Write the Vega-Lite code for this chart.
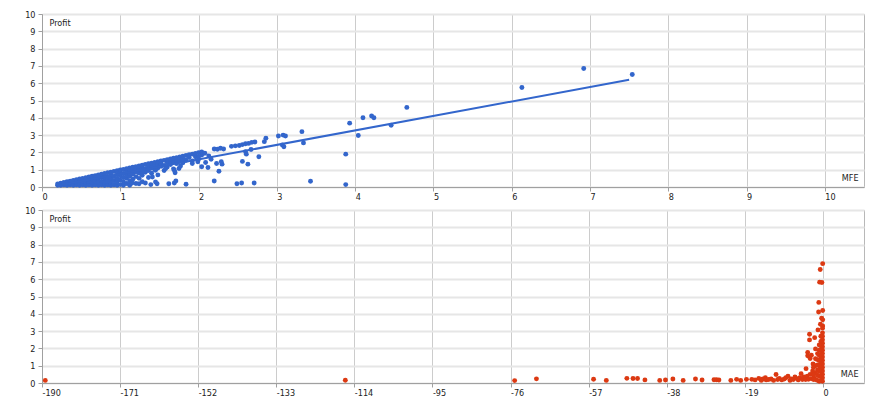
{
  "$schema": "https://vega.github.io/schema/vega-lite/v6.json",
  "padding": {"left": 24, "top": 9, "right": 13, "bottom": 5},
  "spacing": 3,
  "config": {
    "view": {"stroke": "#b8b8b8"},
    "axis": {
      "labelFont": "DejaVu Sans Condensed", "labelFontSize": 9, "labelColor": "#222",
      "titleFont": "DejaVu Sans Condensed", "titleFontSize": 9, "titleColor": "#222", "titleFontWeight": "normal",
      "domainColor": "#a0a0a0", "tickColor": "#a0a0a0", "tickSize": 4
    }
  },
  "datasets": {
    "trend": [{"MFE": 0.2, "Profit": 0.09}, {"MFE": 7.5, "Profit": 6.2}],
    "mfe": [
      {"MFE":0.2,"Profit":0.1},{"MFE":0.2,"Profit":0.18},
      {"MFE":0.24,"Profit":0.1},{"MFE":0.24,"Profit":0.22},
      {"MFE":0.28,"Profit":0.12},{"MFE":0.28,"Profit":0.26},
      {"MFE":0.32,"Profit":0.1},{"MFE":0.32,"Profit":0.3},
      {"MFE":0.36,"Profit":0.12},{"MFE":0.36,"Profit":0.24},{"MFE":0.36,"Profit":0.34},
      {"MFE":0.4,"Profit":0.1},{"MFE":0.4,"Profit":0.25},{"MFE":0.4,"Profit":0.38},
      {"MFE":0.44,"Profit":0.12},{"MFE":0.44,"Profit":0.28},{"MFE":0.44,"Profit":0.42},
      {"MFE":0.48,"Profit":0.1},{"MFE":0.48,"Profit":0.3},{"MFE":0.48,"Profit":0.46},
      {"MFE":0.52,"Profit":0.12},{"MFE":0.52,"Profit":0.32},{"MFE":0.52,"Profit":0.5},
      {"MFE":0.56,"Profit":0.1},{"MFE":0.56,"Profit":0.28},{"MFE":0.56,"Profit":0.42},{"MFE":0.56,"Profit":0.54},
      {"MFE":0.6,"Profit":0.12},{"MFE":0.6,"Profit":0.3},{"MFE":0.6,"Profit":0.45},{"MFE":0.6,"Profit":0.58},
      {"MFE":0.64,"Profit":0.1},{"MFE":0.64,"Profit":0.28},{"MFE":0.64,"Profit":0.46},{"MFE":0.64,"Profit":0.62},
      {"MFE":0.68,"Profit":0.12},{"MFE":0.68,"Profit":0.32},{"MFE":0.68,"Profit":0.5},{"MFE":0.68,"Profit":0.66},
      {"MFE":0.72,"Profit":0.1},{"MFE":0.72,"Profit":0.3},{"MFE":0.72,"Profit":0.5},{"MFE":0.72,"Profit":0.7},
      {"MFE":0.76,"Profit":0.12},{"MFE":0.76,"Profit":0.32},{"MFE":0.76,"Profit":0.54},{"MFE":0.76,"Profit":0.74},
      {"MFE":0.8,"Profit":0.1},{"MFE":0.8,"Profit":0.3},{"MFE":0.8,"Profit":0.5},{"MFE":0.8,"Profit":0.66},{"MFE":0.8,"Profit":0.78},
      {"MFE":0.84,"Profit":0.12},{"MFE":0.84,"Profit":0.34},{"MFE":0.84,"Profit":0.56},{"MFE":0.84,"Profit":0.82},
      {"MFE":0.88,"Profit":0.1},{"MFE":0.88,"Profit":0.3},{"MFE":0.88,"Profit":0.5},{"MFE":0.88,"Profit":0.7},{"MFE":0.88,"Profit":0.86},
      {"MFE":0.92,"Profit":0.12},{"MFE":0.92,"Profit":0.36},{"MFE":0.92,"Profit":0.6},{"MFE":0.92,"Profit":0.9},
      {"MFE":0.96,"Profit":0.1},{"MFE":0.96,"Profit":0.3},{"MFE":0.96,"Profit":0.5},{"MFE":0.96,"Profit":0.72},{"MFE":0.96,"Profit":0.94},
      {"MFE":1.0,"Profit":0.14},{"MFE":1.0,"Profit":0.4},{"MFE":1.0,"Profit":0.65},{"MFE":1.0,"Profit":0.84},{"MFE":1.0,"Profit":0.98},
      {"MFE":1.04,"Profit":0.1},{"MFE":1.04,"Profit":0.3},{"MFE":1.04,"Profit":0.55},{"MFE":1.04,"Profit":0.78},{"MFE":1.04,"Profit":1.02},
      {"MFE":1.08,"Profit":0.2},{"MFE":1.08,"Profit":0.5},{"MFE":1.08,"Profit":0.7},{"MFE":1.08,"Profit":0.9},{"MFE":1.08,"Profit":1.06},
      {"MFE":1.12,"Profit":0.1},{"MFE":1.12,"Profit":0.35},{"MFE":1.12,"Profit":0.62},{"MFE":1.12,"Profit":0.85},{"MFE":1.12,"Profit":1.1},
      {"MFE":1.16,"Profit":0.45},{"MFE":1.16,"Profit":0.75},{"MFE":1.16,"Profit":0.95},{"MFE":1.16,"Profit":1.14},
      {"MFE":1.2,"Profit":0.2},{"MFE":1.2,"Profit":0.6},{"MFE":1.2,"Profit":0.88},{"MFE":1.2,"Profit":1.05},{"MFE":1.2,"Profit":1.18},
      {"MFE":1.24,"Profit":0.5},{"MFE":1.24,"Profit":0.8},{"MFE":1.24,"Profit":1.0},{"MFE":1.24,"Profit":1.22},
      {"MFE":1.28,"Profit":0.3},{"MFE":1.28,"Profit":0.68},{"MFE":1.28,"Profit":0.92},{"MFE":1.28,"Profit":1.1},{"MFE":1.28,"Profit":1.26},
      {"MFE":1.32,"Profit":0.85},{"MFE":1.32,"Profit":1.05},{"MFE":1.32,"Profit":1.3},
      {"MFE":1.36,"Profit":0.55},{"MFE":1.36,"Profit":0.95},{"MFE":1.36,"Profit":1.15},{"MFE":1.36,"Profit":1.34},
      {"MFE":1.4,"Profit":0.8},{"MFE":1.4,"Profit":1.1},{"MFE":1.4,"Profit":1.25},{"MFE":1.4,"Profit":1.38},
      {"MFE":1.44,"Profit":1.0},{"MFE":1.44,"Profit":1.2},{"MFE":1.44,"Profit":1.42},
      {"MFE":1.48,"Profit":0.7},{"MFE":1.48,"Profit":1.1},{"MFE":1.48,"Profit":1.3},{"MFE":1.48,"Profit":1.46},
      {"MFE":1.52,"Profit":1.2},{"MFE":1.52,"Profit":1.35},{"MFE":1.52,"Profit":1.5},
      {"MFE":1.56,"Profit":0.95},{"MFE":1.56,"Profit":1.25},{"MFE":1.56,"Profit":1.54},
      {"MFE":1.6,"Profit":1.15},{"MFE":1.6,"Profit":1.4},{"MFE":1.6,"Profit":1.58},
      {"MFE":1.64,"Profit":1.3},{"MFE":1.64,"Profit":1.48},{"MFE":1.64,"Profit":1.62},
      {"MFE":1.68,"Profit":1.05},{"MFE":1.68,"Profit":1.45},{"MFE":1.68,"Profit":1.66},
      {"MFE":1.72,"Profit":1.35},{"MFE":1.72,"Profit":1.55},{"MFE":1.72,"Profit":1.7},
      {"MFE":1.76,"Profit":1.5},{"MFE":1.76,"Profit":1.74},
      {"MFE":1.8,"Profit":1.4},{"MFE":1.8,"Profit":1.6},{"MFE":1.8,"Profit":1.78},
      {"MFE":1.84,"Profit":1.55},{"MFE":1.84,"Profit":1.82},
      {"MFE":1.88,"Profit":1.7},{"MFE":1.88,"Profit":1.86},
      {"MFE":1.92,"Profit":1.5},{"MFE":1.92,"Profit":1.9},
      {"MFE":1.96,"Profit":1.75},{"MFE":1.96,"Profit":1.94},
      {"MFE":2.0,"Profit":1.6},{"MFE":2.0,"Profit":1.98},
      {"MFE":2.04,"Profit":1.85},{"MFE":2.04,"Profit":2.02},
      {"MFE":2.08,"Profit":1.95},{"MFE":2.13,"Profit":1.8},
      {"MFE":2.2,"Profit":0.35},{"MFE":2.26,"Profit":0.91},{"MFE":2.49,"Profit":0.19},{"MFE":2.55,"Profit":0.23},
      {"MFE":2.71,"Profit":0.23},{"MFE":2.77,"Profit":1.75},{"MFE":2.56,"Profit":1.48},{"MFE":2.63,"Profit":1.32},
      {"MFE":2.04,"Profit":1.17},{"MFE":2.12,"Profit":1.13},{"MFE":2.09,"Profit":1.42},{"MFE":2.23,"Profit":1.36},
      {"MFE":2.3,"Profit":1.32},{"MFE":2.29,"Profit":1.46},{"MFE":2.16,"Profit":1.6},{"MFE":1.84,"Profit":0.16},
      {"MFE":1.69,"Profit":0.23},{"MFE":1.71,"Profit":0.35},{"MFE":1.62,"Profit":0.19},{"MFE":1.47,"Profit":0.19},
      {"MFE":1.45,"Profit":0.29},{"MFE":1.41,"Profit":0.58},{"MFE":1.39,"Profit":0.14},{"MFE":1.32,"Profit":0.23},
      {"MFE":1.24,"Profit":0.19},{"MFE":1.15,"Profit":0.23},{"MFE":1.13,"Profit":0.78},{"MFE":1.28,"Profit":0.87},
      {"MFE":1.35,"Profit":1.07},{"MFE":1.45,"Profit":0.97},{"MFE":1.58,"Profit":1.07},{"MFE":1.69,"Profit":0.97},
      {"MFE":1.75,"Profit":1.07},{"MFE":1.7,"Profit":0.82},{"MFE":1.77,"Profit":1.22},{"MFE":1.92,"Profit":1.36},
      {"MFE":1.99,"Profit":1.46},{"MFE":2.0,"Profit":1.75},{"MFE":2.6,"Profit":2.04},{"MFE":2.61,"Profit":1.9},
      {"MFE":2.67,"Profit":2.17},{"MFE":3.07,"Profit":2.43},{"MFE":3.09,"Profit":2.33},
      {"MFE":2.2,"Profit":2.2},{"MFE":2.24,"Profit":2.18},{"MFE":2.28,"Profit":2.24},{"MFE":2.32,"Profit":2.2},
      {"MFE":2.42,"Profit":2.35},{"MFE":2.47,"Profit":2.38},{"MFE":2.52,"Profit":2.4},{"MFE":2.56,"Profit":2.45},
      {"MFE":2.6,"Profit":2.5},{"MFE":2.64,"Profit":2.52},{"MFE":2.68,"Profit":2.58},{"MFE":2.72,"Profit":2.6},
      {"MFE":2.84,"Profit":2.62},{"MFE":2.86,"Profit":2.82},{"MFE":3.02,"Profit":2.95},{"MFE":3.08,"Profit":3.0},
      {"MFE":3.11,"Profit":2.95},{"MFE":3.32,"Profit":3.2},{"MFE":3.34,"Profit":2.55},{"MFE":3.43,"Profit":0.33},
      {"MFE":3.88,"Profit":0.14},{"MFE":3.88,"Profit":1.9},{"MFE":3.93,"Profit":3.69},{"MFE":4.04,"Profit":2.98},
      {"MFE":4.1,"Profit":4.0},{"MFE":4.21,"Profit":4.1},{"MFE":4.24,"Profit":4.0},{"MFE":4.46,"Profit":3.57},
      {"MFE":4.66,"Profit":4.6},{"MFE":6.13,"Profit":5.75},{"MFE":6.92,"Profit":6.85},{"MFE":7.54,"Profit":6.5}
    ],
    "mae": [
      {"MAE":-189.2,"Profit":0.15},{"MAE":-116.2,"Profit":0.16},{"MAE":-75.0,"Profit":0.14},{"MAE":-69.7,"Profit":0.24},
      {"MAE":-55.8,"Profit":0.22},{"MAE":-52.7,"Profit":0.15},{"MAE":-47.7,"Profit":0.27},{"MAE":-46.2,"Profit":0.26},
      {"MAE":-45.1,"Profit":0.26},{"MAE":-43.3,"Profit":0.18},{"MAE":-39.7,"Profit":0.15},{"MAE":-38.3,"Profit":0.17},
      {"MAE":-36.5,"Profit":0.23},{"MAE":-34.0,"Profit":0.15},{"MAE":-31.0,"Profit":0.23},{"MAE":-29.4,"Profit":0.17},
      {"MAE":-26.5,"Profit":0.19},{"MAE":-25.9,"Profit":0.19},{"MAE":-25.3,"Profit":0.17},{"MAE":-22.4,"Profit":0.15},
      {"MAE":-21.0,"Profit":0.21},{"MAE":-20.0,"Profit":0.15},{"MAE":-18.6,"Profit":0.21},{"MAE":-17.3,"Profit":0.21},
      {"MAE":-16.5,"Profit":0.18},{"MAE":-15.6,"Profit":0.27},{"MAE":-15.0,"Profit":0.15},{"MAE":-14.6,"Profit":0.23},
      {"MAE":-14.0,"Profit":0.3},{"MAE":-13.8,"Profit":0.18},{"MAE":-13.2,"Profit":0.2},{"MAE":-12.6,"Profit":0.23},
      {"MAE":-12.0,"Profit":0.15},{"MAE":-11.4,"Profit":0.49},{"MAE":-11.0,"Profit":0.2},{"MAE":-10.6,"Profit":0.27},
      {"MAE":-10.0,"Profit":0.18},{"MAE":-9.4,"Profit":0.23},{"MAE":-9.0,"Profit":0.3},{"MAE":-8.5,"Profit":0.39},
      {"MAE":-8.0,"Profit":0.15},{"MAE":-7.7,"Profit":0.23},{"MAE":-7.2,"Profit":0.2},{"MAE":-6.8,"Profit":0.35},
      {"MAE":-6.5,"Profit":0.27},{"MAE":-6.0,"Profit":0.18},{"MAE":-5.6,"Profit":0.3},{"MAE":-5.3,"Profit":0.54},
      {"MAE":-5.0,"Profit":0.2},{"MAE":-4.6,"Profit":0.35},{"MAE":-4.2,"Profit":0.2},{"MAE":-4.1,"Profit":0.83},
      {"MAE":-3.8,"Profit":0.4},{"MAE":-3.5,"Profit":0.22},{"MAE":-3.1,"Profit":0.5},{"MAE":-2.8,"Profit":0.25},
      {"MAE":-2.5,"Profit":0.7},{"MAE":-2.4,"Profit":1.1},{"MAE":-2.2,"Profit":0.3},
      {"MAE":-3.7,"Profit":1.77},{"MAE":-2.8,"Profit":1.6},{"MAE":-3.7,"Profit":1.57},{"MAE":-3.1,"Profit":1.42},
      {"MAE":-3.25,"Profit":2.82},{"MAE":-3.25,"Profit":2.49},{"MAE":-2.0,"Profit":2.62},{"MAE":-1.2,"Profit":3.07},
      {"MAE":-0.05,"Profit":6.9},{"MAE":-0.65,"Profit":6.56},{"MAE":-0.8,"Profit":5.83},{"MAE":-0.25,"Profit":5.81},
      {"MAE":-1.0,"Profit":4.66},{"MAE":-1.05,"Profit":4.1},{"MAE":-0.05,"Profit":4.19},{"MAE":-0.3,"Profit":3.75},
      {"MAE":-0.05,"Profit":3.65},{"MAE":-0.05,"Profit":3.3},{"MAE":-0.1,"Profit":3.17},{"MAE":-0.6,"Profit":3.4},
      {"MAE":-0.1,"Profit":0.1},{"MAE":-0.1,"Profit":0.3},{"MAE":-0.1,"Profit":0.5},{"MAE":-0.1,"Profit":0.7},
      {"MAE":-0.1,"Profit":0.9},{"MAE":-0.1,"Profit":1.1},{"MAE":-0.1,"Profit":1.3},{"MAE":-0.1,"Profit":1.5},
      {"MAE":-0.1,"Profit":1.7},{"MAE":-0.1,"Profit":1.9},{"MAE":-0.1,"Profit":2.1},{"MAE":-0.1,"Profit":2.3},
      {"MAE":-0.1,"Profit":2.5},{"MAE":-0.1,"Profit":2.7},{"MAE":-0.1,"Profit":2.9},
      {"MAE":-0.5,"Profit":0.15},{"MAE":-0.5,"Profit":0.4},{"MAE":-0.5,"Profit":0.65},{"MAE":-0.5,"Profit":0.9},
      {"MAE":-0.5,"Profit":1.15},{"MAE":-0.5,"Profit":1.4},{"MAE":-0.5,"Profit":1.65},{"MAE":-0.5,"Profit":1.9},
      {"MAE":-0.5,"Profit":2.15},{"MAE":-0.5,"Profit":2.4},{"MAE":-0.5,"Profit":2.7},
      {"MAE":-0.9,"Profit":0.1},{"MAE":-0.9,"Profit":0.4},{"MAE":-0.9,"Profit":0.7},{"MAE":-0.9,"Profit":1.0},
      {"MAE":-0.9,"Profit":1.3},{"MAE":-0.9,"Profit":1.6},{"MAE":-0.9,"Profit":1.9},{"MAE":-0.9,"Profit":2.2},
      {"MAE":-1.3,"Profit":0.15},{"MAE":-1.3,"Profit":0.45},{"MAE":-1.3,"Profit":0.75},{"MAE":-1.3,"Profit":1.05},
      {"MAE":-1.3,"Profit":1.35},{"MAE":-1.3,"Profit":1.7},
      {"MAE":-1.8,"Profit":0.2},{"MAE":-1.8,"Profit":0.6},{"MAE":-1.8,"Profit":1.0},{"MAE":-1.8,"Profit":1.4},
      {"MAE":-1.8,"Profit":1.97},{"MAE":-2.3,"Profit":0.2},{"MAE":-2.3,"Profit":0.5},{"MAE":-2.3,"Profit":0.9}
    ]
  },
  "vconcat": [
    {
      "width": 822, "height": 173,
      "encoding": {
        "x": {"field": "MFE", "type": "quantitative",
          "scale": {"domain": [0, 10.5], "nice": false, "zero": false},
          "axis": {"values": [0,1,2,3,4,5,6,7,8,9,10], "title": "MFE", "titleX": 816, "titleY": -10,
            "titleAlign": "right", "titleBaseline": "middle", "titleAnchor": null,
            "labelAlign": "left", "labelDx": 1, "labelPadding": 1, "gridColor": "#cccccc", "labelExpr": "'' + datum.value"}},
        "y": {"field": "Profit", "type": "quantitative",
          "scale": {"domain": [0, 10], "nice": false},
          "axis": {"values": [0,1,2,3,4,5,6,7,8,9,10], "title": "Profit", "titleX": 7, "titleY": 8, "titleAngle": 0,
            "titleAlign": "left", "titleBaseline": "middle", "titleAnchor": null,
            "labelPadding": 3, "gridColor": "#e6e6e6", "gridWidth": 2}}
      },
      "layer": [
        {
          "data": {"name": "mfe"},
          "mark": {"type": "circle", "color": "#3366cc", "size": 24, "opacity": 1}
        },
        {
          "data": {"name": "trend"},
          "mark": {"type": "line", "color": "#3366cc", "strokeWidth": 2}
        }
      ]
    },
    {
      "width": 822, "height": 173,
      "data": {"name": "mae"},
      "mark": {"type": "circle", "color": "#dc3912", "size": 24, "opacity": 1},
      "encoding": {
        "x": {"field": "MAE", "type": "quantitative",
          "scale": {"domain": [-190, 10], "nice": false, "zero": false},
          "axis": {"values": [-190,-171,-152,-133,-114,-95,-76,-57,-38,-19,0], "title": "MAE", "titleX": 816, "titleY": -10,
            "titleAlign": "right", "titleBaseline": "middle", "titleAnchor": null,
            "labelAlign": "left", "labelDx": 1, "labelPadding": 1, "gridColor": "#cccccc", "labelExpr": "'' + datum.value"}},
        "y": {"field": "Profit", "type": "quantitative",
          "scale": {"domain": [0, 10], "nice": false},
          "axis": {"values": [0,1,2,3,4,5,6,7,8,9,10], "title": "Profit", "titleX": 7, "titleY": 8, "titleAngle": 0,
            "titleAlign": "left", "titleBaseline": "middle", "titleAnchor": null,
            "labelPadding": 3, "gridColor": "#e6e6e6", "gridWidth": 2}}
      }
    }
  ]
}
